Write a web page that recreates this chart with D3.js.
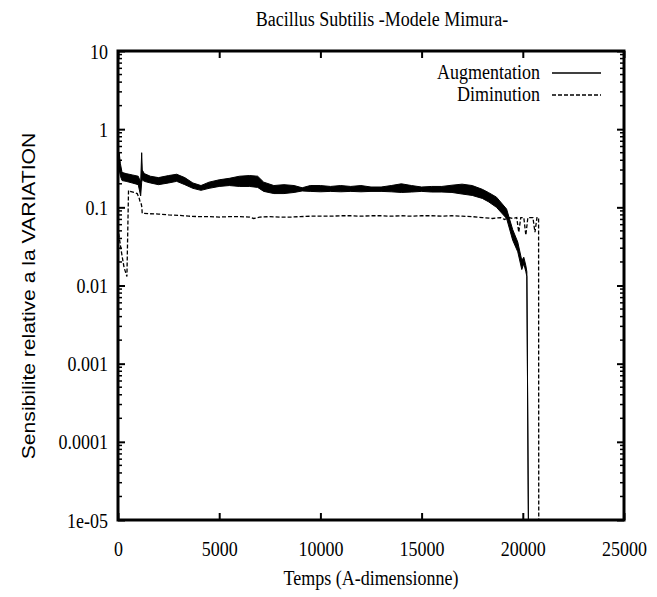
<!DOCTYPE html>
<html>
<head>
<meta charset="utf-8">
<script src="https://cdn.jsdelivr.net/npm/d3@7/dist/d3.min.js"></script>
<style>
  html, body { margin: 0; padding: 0; background: #fff; }
  svg { display: block; }
</style>
</head>
<body>
<svg id="chart" width="657" height="597"></svg>
<script>
// ---------------- DATA ----------------
const chartTitle = "Bacillus Subtilis -Modele Mimura-";
const xLabel = "Temps (A-dimensionne)";
const yLabel = "Sensibilite relative a la  VARIATION";
const seriesNames = ["Augmentation", "Diminution"];

const xTicks = [0, 5000, 10000, 15000, 20000, 25000];
const yTicks = [10, 1, 0.1, 0.01, 0.001, 0.0001, 0.00001];
const yTickLabels = ["10", "1", "0.1", "0.01", "0.001", "0.0001", "1e-05"];

// Augmentation: noisy band, given as lower / upper envelope
const augX  = [0, 60, 120, 200, 400, 700, 1000, 1120, 1170, 1200, 1300, 1600, 2000, 2500, 2900, 3300, 3700, 4100, 4500, 5000, 5500, 6000, 6500, 6900, 7200, 7700, 8200, 8700, 9100, 9500, 10000, 10500, 11000, 11500, 12000, 12500, 13000, 13500, 14000, 14500, 15000, 15500, 16000, 16500, 17000, 17500, 18000, 18300, 18700, 19200, 19500, 19750, 19950, 20050, 20150, 20200, 20300];
const augLo = [0.27, 0.30, 0.25, 0.22, 0.215, 0.205, 0.195, 0.14, 0.21, 0.225, 0.215, 0.205, 0.195, 0.205, 0.215, 0.195, 0.175, 0.165, 0.175, 0.185, 0.19, 0.185, 0.185, 0.18, 0.16, 0.15, 0.15, 0.155, 0.162, 0.16, 0.158, 0.16, 0.158, 0.16, 0.158, 0.16, 0.16, 0.158, 0.155, 0.157, 0.16, 0.157, 0.157, 0.155, 0.148, 0.142, 0.13, 0.118, 0.1, 0.072, 0.038, 0.027, 0.016, 0.019, 0.015, 0.013, 0.000001];
const augHi = [0.33, 0.50, 0.36, 0.28, 0.27, 0.26, 0.25, 0.21, 0.50, 0.30, 0.27, 0.25, 0.24, 0.255, 0.265, 0.24, 0.205, 0.19, 0.21, 0.225, 0.235, 0.25, 0.255, 0.25, 0.21, 0.19, 0.195, 0.19, 0.178, 0.19, 0.19, 0.185, 0.19, 0.185, 0.19, 0.182, 0.182, 0.19, 0.2, 0.19, 0.182, 0.185, 0.185, 0.192, 0.198, 0.19, 0.17, 0.155, 0.135, 0.095, 0.052, 0.036, 0.021, 0.023, 0.018, 0.015, 0.000001];

// Diminution: dashed curve
const dimX = [0, 100, 200, 300, 440, 520, 600, 800, 950, 1050, 1100, 1150, 1180, 1195, 1500, 2000, 2500, 3000, 3500, 4000, 4500, 5000, 5500, 6000, 6500, 6700, 7000, 7500, 8000, 8500, 9000, 9500, 10000, 10500, 11000, 11500, 12000, 12500, 13000, 13500, 14000, 14500, 15000, 15500, 16000, 16500, 17000, 17500, 18000, 18500, 18900, 19100, 19300, 19500, 19700, 19800, 19900, 20050, 20150, 20250, 20500, 20600, 20700, 20780, 20790];
const dimY = [0.055, 0.035, 0.024, 0.017, 0.013, 0.165, 0.16, 0.155, 0.15, 0.13, 0.115, 0.11, 0.10, 0.084, 0.083, 0.082, 0.080, 0.079, 0.077, 0.076, 0.076, 0.075, 0.076, 0.076, 0.075, 0.072, 0.075, 0.076, 0.075, 0.075, 0.076, 0.077, 0.077, 0.077, 0.078, 0.078, 0.077, 0.078, 0.078, 0.077, 0.078, 0.077, 0.078, 0.078, 0.077, 0.078, 0.077, 0.076, 0.074, 0.072, 0.074, 0.070, 0.074, 0.072, 0.074, 0.048, 0.074, 0.074, 0.044, 0.074, 0.074, 0.048, 0.074, 0.074, 0.000001];

// ---------------- CHART ----------------
const svg = d3.select("#chart");
const L = 118, R = 624, T = 51, B = 520;
const serif = "Liberation Serif, Times New Roman, serif";
const sans = "Liberation Sans, Arial, sans-serif";
const FS = 18, SY = 1.2; // font size, vertical stretch of the original rendering

const x = d3.scaleLinear().domain([0, 25000]).range([L, R]);
const y = d3.scaleLog().domain([1e-5, 10]).range([B, T]);

svg.append("clipPath").attr("id", "clip")
  .append("rect").attr("x", L).attr("y", T).attr("width", R - L).attr("height", B - T);

function stretchedText(px, py, anchor, txt, family, size) {
  return svg.append("text").attr("transform", `translate(${px},${py}) scale(1,${SY})`)
    .attr("text-anchor", anchor).attr("font-family", family || serif)
    .attr("font-size", size || FS).attr("fill", "#000").text(txt);
}

// Title
stretchedText(382, 26, "middle", chartTitle);

// Axes
const axB = svg.append("g").attr("transform", `translate(0,${B})`)
  .call(d3.axisBottom(x).tickValues(xTicks).tickFormat(d3.format("d")).tickSizeInner(-7).tickSizeOuter(0));
const axT = svg.append("g").attr("transform", `translate(0,${T})`)
  .call(d3.axisTop(x).tickValues(xTicks).tickFormat("").tickSizeInner(-7).tickSizeOuter(0));
const axL = svg.append("g").attr("transform", `translate(${L},0)`)
  .call(d3.axisLeft(y).tickValues(yTicks).tickFormat((d, i) => yTickLabels[i]).tickSizeInner(-7).tickSizeOuter(0));
const axR = svg.append("g").attr("transform", `translate(${R},0)`)
  .call(d3.axisRight(y).tickValues(yTicks).tickFormat("").tickSizeInner(-7).tickSizeOuter(0));

[axB, axT, axL, axR].forEach(g => {
  g.select(".domain").remove();
  g.selectAll(".tick line").attr("stroke", "#000").attr("stroke-width", 2);
  g.selectAll(".tick text").attr("font-family", serif).attr("font-size", FS).attr("fill", "#000")
    .attr("x", 0).attr("y", 0).attr("dy", null);
});
axB.selectAll(".tick text").attr("transform", `translate(0,36) scale(1,${SY})`);
axL.selectAll(".tick text").attr("transform", `translate(-10,7) scale(1,${SY})`);

// Minor log ticks
const minor = [];
for (let e = -5; e < 1; e++) for (let m = 2; m <= 9; m++) minor.push(m * Math.pow(10, e));
svg.append("g").selectAll("line").data(minor).join("line")
  .attr("x1", L).attr("x2", L + 4).attr("y1", d => y(d)).attr("y2", d => y(d))
  .attr("stroke", "#000").attr("stroke-width", 1.5);
svg.append("g").selectAll("line").data(minor).join("line")
  .attr("x1", R).attr("x2", R - 4).attr("y1", d => y(d)).attr("y2", d => y(d))
  .attr("stroke", "#000").attr("stroke-width", 1.5);

// Curves
const plot = svg.append("g").attr("clip-path", "url(#clip)");
const augData = augX.map((d, i) => ({ x: d, lo: augLo[i], hi: augHi[i] }));
const area = d3.area().x(d => x(d.x)).y0(d => y(d.lo)).y1(d => y(d.hi));
plot.append("path").datum(augData).attr("d", area)
  .attr("fill", "#000").attr("stroke", "#000").attr("stroke-width", 1).attr("stroke-linejoin", "round");

const dimData = dimX.map((d, i) => ({ x: d, v: dimY[i] }));
const line = d3.line().x(d => x(d.x)).y(d => y(d.v));
plot.append("path").datum(dimData).attr("d", line)
  .attr("fill", "none").attr("stroke", "#000").attr("stroke-width", 1.3).attr("stroke-dasharray", "4,2");

// Frame
svg.append("rect").attr("x", L).attr("y", T).attr("width", R - L).attr("height", B - T)
  .attr("fill", "none").attr("stroke", "#000").attr("stroke-width", 3);

// Axis labels
stretchedText(371, 585, "middle", xLabel);
svg.append("text").attr("transform", `translate(35,296) scale(1,${SY}) rotate(-90)`)
  .attr("text-anchor", "middle").attr("font-family", sans).attr("font-size", 17.6)
  .attr("fill", "#000").text(yLabel);

// Legend
const legY = [73, 95];
const legDash = [null, "4,2"];
seriesNames.forEach((n, i) => {
  stretchedText(540, legY[i] + 6, "end", n);
  svg.append("line").attr("x1", 552).attr("x2", 601).attr("y1", legY[i]).attr("y2", legY[i])
    .attr("stroke", "#000").attr("stroke-width", 1.3).attr("stroke-dasharray", legDash[i]);
});
</script>
</body>
</html>
